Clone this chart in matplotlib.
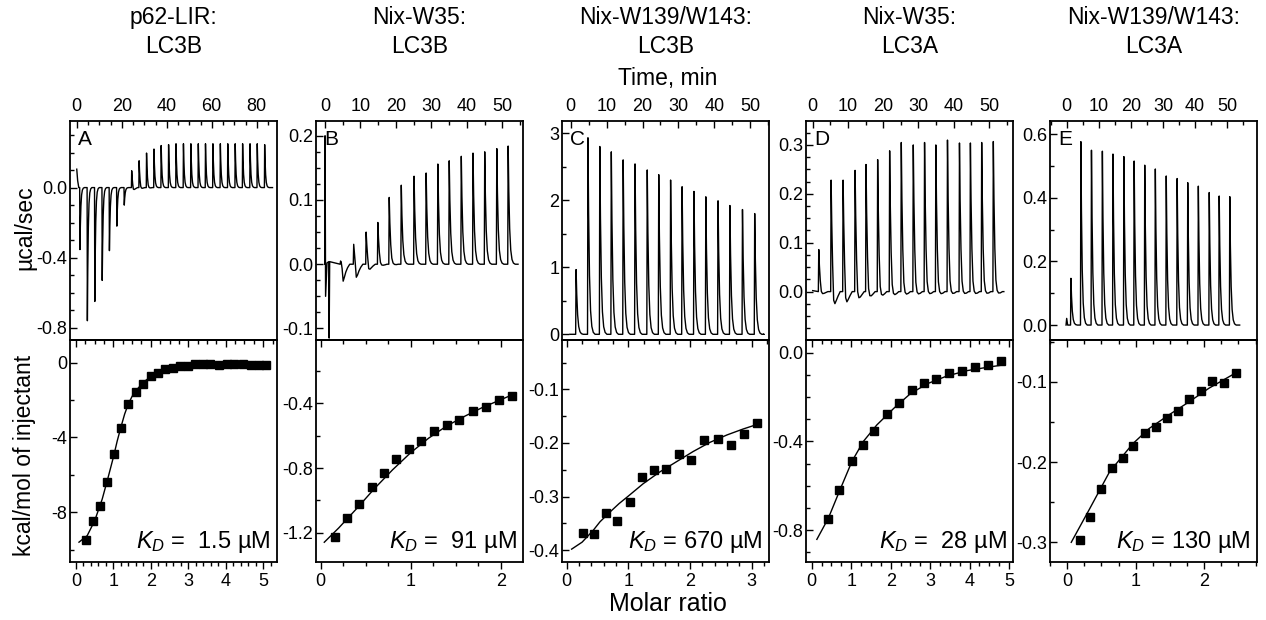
"""ITC titrations: raw heat traces (top) and integrated isotherms (bottom)."""
import matplotlib

matplotlib.use("Agg")
import matplotlib.pyplot as plt
from matplotlib.ticker import MultipleLocator, FixedLocator, NullFormatter

plt.rcParams["font.family"] = ["Liberation Sans", "DejaVu Sans"]
plt.rcParams["axes.unicode_minus"] = False
plt.rcParams["mathtext.fontset"] = "custom"
plt.rcParams["mathtext.it"] = "Liberation Sans:italic"
plt.rcParams["mathtext.rm"] = "Liberation Sans"

W, H = 1266, 620

# ---------------- data: raw traces (time, min / peak, ucal/sec) ----------------
titles = ["p62-LIR:\nLC3B", "Nix-W35:\nLC3B", "Nix-W139/W143:\nLC3B",
          "Nix-W35:\nLC3A", "Nix-W139/W143:\nLC3A"]
letters = ["A", "B", "C", "D", "E"]
kd_labels = ["1.5", "91", "670", "28", "130"]

a_times = [1.3, 4.6, 7.9, 11.2, 14.4, 17.7, 21.0, 24.3, 27.6, 30.9, 34.2, 37.4, 40.7,
           44.0, 47.3, 50.6, 53.9, 57.1, 60.4, 63.7, 67.0, 70.3, 73.6, 76.9, 80.1, 83.4]
a_peaks = [-0.354, -0.76, -0.65, -0.53, -0.36, -0.22, -0.10, 0.096, 0.153, 0.197, 0.22,
           0.24, 0.245, 0.25, 0.25, 0.25, 0.25, 0.25, 0.25, 0.25, 0.25, 0.25, 0.25,
           0.25, 0.25, 0.245]
a_dips = [0.0] * 7 + [-0.02, -0.012, -0.008] + [0.0] * 16
a_pre = [(0.0, 0.105), (0.4, 0.04), (0.9, 0.0)]
a_end = 87.0

b_times = [4.3, 8.0, 11.5, 14.8, 18.0, 21.4, 25.0, 28.4, 31.7, 34.9, 38.3, 41.6, 44.9,
           48.3, 51.5]
b_peaks = [0.005, 0.031, 0.05, 0.065, 0.104, 0.123, 0.137, 0.142, 0.156, 0.161, 0.168,
           0.173, 0.175, 0.18, 0.184]
b_dips = [-0.027, -0.024, -0.013, -0.005, -0.003, 0, 0, 0, 0, 0, 0, 0, 0, 0, 0]
b_pre = [(0.0, 0.0), (0.05, 0.2), (0.2, -0.05), (0.6, 0.002), (1.1, 0.004),
         (1.2, -0.115), (1.35, 0.004)]
b_end = 54.4

c_times = [1.4, 4.7, 8.0, 11.2, 14.5, 17.8, 21.2, 24.4, 27.7, 30.9, 34.2, 37.5, 40.9,
           44.2, 47.7, 51.1]
c_peaks = [0.965, 2.93, 2.8, 2.72, 2.6, 2.54, 2.45, 2.38, 2.3, 2.2, 2.13, 2.05, 1.99,
           1.92, 1.86, 1.8]
c_dips = [0.0] * 16
c_pre = [(-0.2, 0.0)]
c_end = 53.7

d_times = [1.6, 5.1, 8.5, 11.9, 15.0, 18.3, 21.7, 25.0, 28.4, 31.6, 34.8, 38.1, 41.5,
           44.6, 47.8, 51.1]
d_peaks = [0.086, 0.228, 0.228, 0.248, 0.26, 0.27, 0.288, 0.305, 0.30, 0.305, 0.30,
           0.31, 0.304, 0.304, 0.305, 0.307]
d_dips = [-0.01, -0.045, -0.04, -0.03, -0.025, -0.022, -0.02, -0.018, -0.017, -0.016,
          -0.016, -0.015, -0.015, -0.015, -0.014, -0.013]
d_pre = [(0.0, 0.002)]
d_end = 54.2

e_times = [1.2, 4.3, 7.6, 11.0, 14.3, 17.7, 20.9, 24.2, 27.5, 30.9, 34.3, 37.6, 40.9,
           44.3, 47.4, 50.7]
e_peaks = [0.147, 0.577, 0.55, 0.547, 0.538, 0.53, 0.516, 0.503, 0.491, 0.469, 0.461,
           0.448, 0.437, 0.417, 0.406, 0.404]
e_dips = [0.0] * 16
e_pre = [(-0.2, 0.0), (0.0, 0.021), (0.3, 0.0)]
e_end = 53.9

# ---------------- data: integrated heats (molar ratio / kcal per mol) ----------------
a_ratio = [0.27, 0.46, 0.65, 0.84, 1.02, 1.20, 1.40, 1.60, 1.79, 2.00, 2.19, 2.39, 2.58,
           2.78, 2.99, 3.19, 3.39, 3.58, 3.82, 4.03, 4.23, 4.46, 4.67, 4.88, 5.08]
a_heat = [-9.48, -8.47, -7.65, -6.4, -4.9, -3.48, -2.23, -1.59, -1.12, -0.71, -0.53,
          -0.34, -0.27, -0.2, -0.16, -0.09, -0.07, -0.09, -0.14, -0.09, -0.05, -0.05,
          -0.1, -0.12, -0.12]
a_fit_x = [0.08, 0.3, 0.5, 0.7, 0.85, 1.0, 1.1, 1.2, 1.3, 1.4, 1.5, 1.6, 1.8, 2.0, 2.2,
           2.5, 3.0, 3.5, 4.0, 4.5, 5.1]
a_fit_y = [-9.6, -9.25, -8.45, -7.3, -6.2, -5.05, -4.2, -3.45, -2.75, -2.2, -1.8, -1.5,
           -1.05, -0.74, -0.52, -0.33, -0.19, -0.13, -0.11, -0.1, -0.1]

b_ratio = [0.163, 0.296, 0.43, 0.574, 0.70, 0.833, 0.978, 1.118, 1.256, 1.404, 1.54,
           1.69, 1.837, 1.978, 2.13]
b_heat = [-1.225, -1.11, -1.02, -0.915, -0.83, -0.746, -0.68, -0.63, -0.573, -0.536,
          -0.5, -0.45, -0.42, -0.38, -0.355]
b_fit_x = [0.04, 0.2, 0.4, 0.6, 0.8, 1.0, 1.2, 1.4, 1.6, 1.8, 2.0, 2.16]
b_fit_y = [-1.258, -1.17, -1.05, -0.925, -0.81, -0.705, -0.615, -0.54, -0.48, -0.425,
           -0.378, -0.34]

c_ratio = [0.26, 0.44, 0.63, 0.82, 1.03, 1.22, 1.41, 1.61, 1.82, 2.02, 2.23, 2.45, 2.66,
           2.87, 3.08]
c_heat = [-0.367, -0.37, -0.33, -0.345, -0.31, -0.264, -0.25, -0.249, -0.22, -0.232,
          -0.195, -0.193, -0.203, -0.183, -0.163]
c_fit_x = [0.08, 0.25, 0.43, 0.54, 0.70, 0.85, 1.0, 1.24, 1.51, 1.78, 2.05, 2.32, 2.6,
           2.86, 3.1]
c_fit_y = [-0.398, -0.385, -0.363, -0.347, -0.329, -0.313, -0.299, -0.276, -0.254,
           -0.235, -0.216, -0.199, -0.185, -0.174, -0.165]

d_ratio = [0.41, 0.70, 1.01, 1.30, 1.59, 1.90, 2.22, 2.54, 2.84, 3.16, 3.49, 3.82, 4.14,
           4.47, 4.80]
d_heat = [-0.752, -0.62, -0.49, -0.415, -0.353, -0.278, -0.226, -0.168, -0.138, -0.119,
          -0.093, -0.083, -0.066, -0.054, -0.038]
d_fit_x = [0.13, 0.42, 0.72, 1.02, 1.31, 1.65, 2.08, 2.5, 2.93, 3.43, 3.94, 4.45, 4.83]
d_fit_y = [-0.842, -0.747, -0.617, -0.49, -0.40, -0.326, -0.251, -0.185, -0.14, -0.105,
           -0.081, -0.066, -0.056]

e_ratio = [0.19, 0.34, 0.50, 0.66, 0.81, 0.96, 1.13, 1.29, 1.46, 1.62, 1.78, 1.95, 2.12,
           2.29, 2.46]
e_heat = [-0.297, -0.268, -0.234, -0.208, -0.195, -0.18, -0.164, -0.156, -0.145, -0.136,
          -0.121, -0.112, -0.099, -0.102, -0.089]
e_fit_x = [0.06, 0.33, 0.62, 0.96, 1.2, 1.49, 1.78, 2.07, 2.48]
e_fit_y = [-0.30, -0.258, -0.212, -0.177, -0.158, -0.141, -0.125, -0.108, -0.088]

raw = [
    (a_times, a_peaks, a_dips, a_pre, a_end),
    (b_times, b_peaks, b_dips, b_pre, b_end),
    (c_times, c_peaks, c_dips, c_pre, c_end),
    (d_times, d_peaks, d_dips, d_pre, d_end),
    (e_times, e_peaks, e_dips, e_pre, e_end),
]
iso = [
    (a_ratio, a_heat, a_fit_x, a_fit_y),
    (b_ratio, b_heat, b_fit_x, b_fit_y),
    (c_ratio, c_heat, c_fit_x, c_fit_y),
    (d_ratio, d_heat, d_fit_x, d_fit_y),
    (e_ratio, e_heat, e_fit_x, e_fit_y),
]

# ---------------- axis setup (limits / ticks) ----------------
lefts_px = [70, 316, 562, 806, 1050]
width_px = 207
top_xlim = [(-3, 89), (-2.5, 55.8), (-2.4, 55.2), (-1.9, 56.8), (-5.2, 59.3)]
top_xmajor = [20, 10, 10, 10, 10]
top_ylim = [(-0.87, 0.38), (-0.118, 0.223), (-0.085, 3.18), (-0.099, 0.349),
            (-0.047, 0.642)]
top_yticks = [[0.0, -0.4, -0.8], [0.2, 0.1, 0.0, -0.1], [3, 2, 1, 0],
              [0.3, 0.2, 0.1, 0.0], [0.6, 0.4, 0.2, 0.0]]
top_yfmt = ["%.1f", "%.1f", "%.1f", "%.0f", "%.1f", "%.1f"]
top_yfmt = ["{:.1f}", "{:.1f}", "{:.0f}", "{:.1f}", "{:.1f}"]
top_yminor = [0.1, 0.025, 0.5, 0.025, 0.1]

bot_xlim = [(-0.16, 5.37), (-0.052, 2.248), (-0.076, 3.28), (-0.145, 5.1),
            (-0.25, 2.77)]
bot_xminor = [0.2, 0.25, 0.2, 0.25, 0.25]
bot_ylim = [(-10.66, 1.21), (-1.38, -0.009), (-0.422, -0.008), (-0.944, 0.057),
            (-0.3245, -0.048)]
bot_yticks = [[0, -4, -8], [-0.4, -0.8, -1.2], [-0.1, -0.2, -0.3, -0.4],
              [0.0, -0.4, -0.8], [-0.1, -0.2, -0.3]]
bot_yfmt = ["{:.0f}", "{:.1f}", "{:.1f}", "{:.1f}", "{:.1f}"]
bot_yminor = [2, 0.2, 0.05, 0.1, 0.05]

# relative shape of one injection peak (offset in min -> fraction of peak / of dip)
shape_dt = [0.0, 0.12, 0.3, 0.55, 0.85, 1.2, 1.6, 2.1, 2.7]
shape_peak = [0.0, 1.0, 0.62, 0.3, 0.12, 0.04, 0.01, 0.0, 0.0]
shape_dip = [0.0, 0.0, 0.0, 0.3, 1.0, 0.75, 0.45, 0.2, 0.0]


def build_trace(times, peaks, dips, pre, t_end):
    tx = [p[0] for p in pre]
    ty = [p[1] for p in pre]
    for t0, pk, dp in zip(times, peaks, dips):
        for dt, sp, sd in zip(shape_dt, shape_peak, shape_dip):
            tx.append(t0 + dt)
            ty.append(pk * sp + dp * sd)
    tx.append(t_end)
    ty.append(0.0)
    return tx, ty


def style_axis(ax):
    for s in ax.spines.values():
        s.set_linewidth(1.3)
    ax.tick_params(which="both", direction="in", labelsize=13, width=1.0)
    ax.tick_params(which="major", length=5)
    ax.tick_params(which="minor", length=3)


fig = plt.figure(figsize=(W / 100, H / 100), dpi=100)
top_bottom = 1 - 340 / H
top_h = 219 / H
bot_bottom = 1 - 562 / H
bot_h = 222 / H

for i in range(5):
    left = lefts_px[i] / W
    wd = width_px / W

    # ---- raw heat trace ----
    ax = fig.add_axes([left, top_bottom, wd, top_h])
    style_axis(ax)
    times, peaks, dips, pre, t_end = raw[i]
    tx, ty = build_trace(times, peaks, dips, pre, t_end)
    ax.plot(tx, ty, color="black", lw=1.0)
    ax.set_xlim(*top_xlim[i])
    ax.set_ylim(*top_ylim[i])
    ax.xaxis.set_ticks_position("top")
    ax.xaxis.set_label_position("top")
    ax.xaxis.set_major_locator(MultipleLocator(top_xmajor[i]))
    ax.xaxis.set_minor_locator(MultipleLocator(5))
    ax.tick_params(axis="x", which="both", bottom=False, top=True, labeltop=True,
                   labelbottom=False, pad=4)
    ax.set_yticks(top_yticks[i])
    ax.set_yticklabels([top_yfmt[i].format(v) for v in top_yticks[i]])
    ax.yaxis.set_minor_locator(MultipleLocator(top_yminor[i]))
    ax.tick_params(axis="y", which="both", right=False, pad=2)
    ax.text(0.04, 0.96, letters[i], transform=ax.transAxes, fontsize=15,
            ha="left", va="top")

    # ---- integrated isotherm ----
    bx = fig.add_axes([left, bot_bottom, wd, bot_h])
    style_axis(bx)
    ratio, heat, fx, fy = iso[i]
    bx.plot(fx, fy, color="black", lw=1.0)
    bx.plot(ratio, heat, ls="none", marker="s", ms=5.5, color="black")
    bx.set_xlim(*bot_xlim[i])
    bx.set_ylim(*bot_ylim[i])
    bx.xaxis.set_major_locator(MultipleLocator(1))
    bx.xaxis.set_minor_locator(MultipleLocator(bot_xminor[i]))
    bx.tick_params(axis="x", which="both", direction="out", top=False, pad=3)
    bx.set_yticks(bot_yticks[i])
    bx.set_yticklabels([bot_yfmt[i].format(v) for v in bot_yticks[i]])
    bx.yaxis.set_minor_locator(MultipleLocator(bot_yminor[i]))
    bx.tick_params(axis="y", which="both", right=False, pad=2)
    # inward ticks along the shared top edge
    sec = bx.secondary_xaxis("top")
    sec.xaxis.set_major_locator(MultipleLocator(1))
    sec.xaxis.set_minor_locator(MultipleLocator(0.25))
    sec.xaxis.set_major_formatter(NullFormatter())
    sec.tick_params(which="both", direction="in", width=1.0)
    sec.tick_params(which="major", length=5)
    sec.tick_params(which="minor", length=3)
    sec.spines["top"].set_linewidth(1.3)

    bx.text(0.97, 0.09, rf"$K_D$ =  {kd_labels[i]} µM" if i in (0, 1, 3)
            else rf"$K_D$ = {kd_labels[i]} µM",
            transform=bx.transAxes, fontsize=17, ha="right", va="center")

    # ---- panel title ----
    cx = (lefts_px[i] + width_px / 2) / W
    fig.text(cx, 1 - 32 / H, titles[i], ha="center", va="center", fontsize=16.5,
             linespacing=1.3)

fig.text(668 / W, 1 - 78 / H, "Time, min", ha="center", va="center", fontsize=16.5)
fig.text(668 / W, 1 - 604 / H, "Molar ratio", ha="center", va="center", fontsize=18)
fig.text(25 / W, 1 - 228 / H, "µcal/sec", ha="center", va="center", rotation=90,
         fontsize=16.5)
fig.text(25 / W, 1 - 455 / H, "kcal/mol of injectant", ha="center", va="center",
         rotation=90, fontsize=16.5)

fig.savefig("out.png", dpi=100)
